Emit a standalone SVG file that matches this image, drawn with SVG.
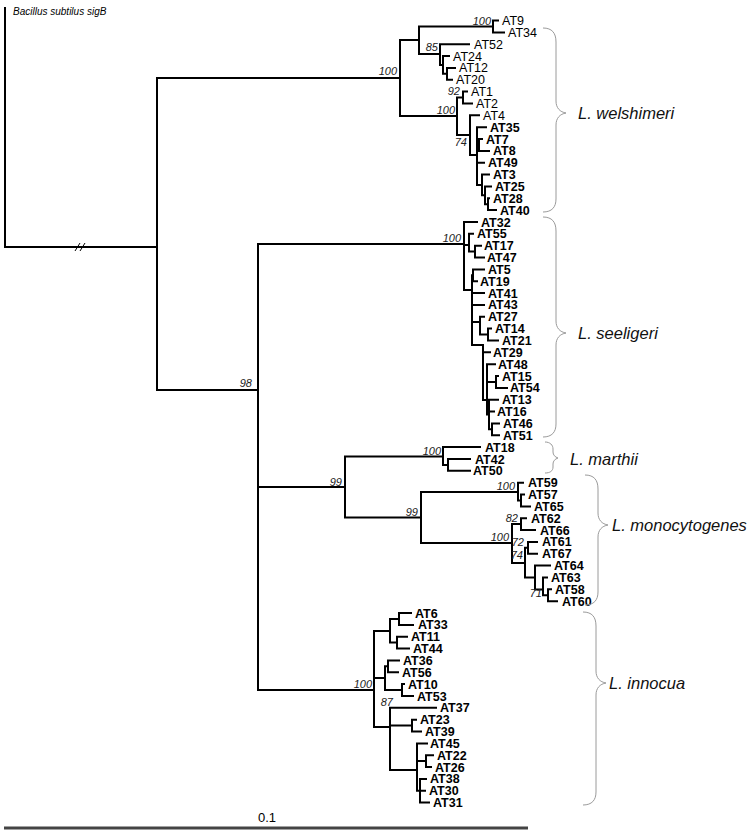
<svg xmlns="http://www.w3.org/2000/svg" width="750" height="834" viewBox="0 0 750 834">
<style>
.br{fill:none;stroke:#000;stroke-width:2;stroke-linecap:square}
.thin{fill:none;stroke:#000;stroke-width:1}
.brace{fill:none;stroke:#9a9a9a;stroke-width:1}
.tip{font-family:"Liberation Sans",Arial,sans-serif;font-size:12.5px;fill:#000}
.tb{font-weight:bold}
.bs{font-family:"Liberation Sans",Arial,sans-serif;font-size:11px;font-style:italic;fill:#222;text-anchor:end}
.sp{font-family:"Liberation Sans",Arial,sans-serif;font-size:16.5px;font-style:italic;fill:#111}
</style>
<rect width="750" height="834" fill="#fff"/>
<g id="connectors">
<path class="br" d="M5 8V247M5 247H157M157 78V390M157 78H400M157 390H258"/>
<path class="thin" d="M75 251L80 243M80 251L85 243"/>
<!-- welshimeri -->
<path class="br" d="M400 40V116M400 40H419M419 26.4V54M419 26.4H493M493 20.5V32.4M493 20.5H498M493 32.4H504
M419 54H440M440 44.2V65M440 44.2H469M440 65H443M443 56V73.8M443 56H449M443 73.8H447M447 67.9V79.8M447 67.9H455M447 79.8H452
M400 116H457M457 97.5V135M457 97.5H463M463 91.6V103.5M463 91.6H467M463 103.5H472
M457 135H470M470 115.3V155M470 115.3H479M470 155H477
M477 127.2V185M477 127.2H486M477 145H479M479 139V150.9M479 139H482M479 150.9H489M477 162.7H484
M477 185H482M482 174.6V195.3M482 174.6H489M482 195.3H485M485 186.4V204.2M485 186.4H491M485 204.2H488M488 198.3V210.1M488 198.3H489M488 210.1H496"/>
<!-- seeligeri -->
<path class="br" d="M258 244V690M258 244H464M464 222V290M464 222H477
M464 245H469M469 233.8V251.6M469 233.8H473M469 251.6H475M475 245.7V257.5M475 245.7H481M475 257.5H484
M464 290H472M472 275.3V345M472 275.3H473M473 269.4V281.2M473 269.4H484M473 281.2H477M472 293.1H484M472 304.9H484
M472 322H480M480 316.8V334.5M480 316.8H484M480 334.5H488M488 328.6V340.5M488 328.6H491M488 340.5H498
M472 345H483M483 345V400M483 352.3H490M483 400H487M487 364.2V414.6M487 364.2H495M487 382H496M496 376V387.9M496 376H498M496 387.9H507
M487 414.6H489M489 399.7V429.3M489 399.7H498M489 411.6H494M489 429.3H492M492 423.4V435.3M492 423.4H499M492 435.3H499"/>
<!-- marthii + monocytogenes -->
<path class="br" d="M258 487H345M345 456.5V517.5M345 456.5H443M443 447.1V464.9M443 447.1H480M443 464.9H448M448 459V470.8M448 459H470M448 470.8H470
M345 517.5H421M421 492V543M421 492H518M518 482.7V500.4M518 482.7H523M518 500.4H521M521 494.5V506.4M521 494.5H524M521 506.4H530
M421 543H512M512 524V563M512 524H521M521 518.2V530.1M521 518.2H526M521 530.1H535
M512 563H525M525 547.8V577.5M525 547.8H528M528 541.9V553.8M528 541.9H537M528 553.8H537
M525 577.5H535M535 565.6V589.4M535 565.6H550M535 589.4H543M543 577.5V595.2M543 577.5H547M543 595.2H548M548 589.3V601.2M548 589.3H551M548 601.2H557"/>
<!-- innocua -->
<path class="br" d="M258 690H374M374 631V727
M374 631H390M390 619V642.6M390 619H399M399 613V624.9M399 613H411M399 624.9H413M390 642.6H397M397 636.7V648.6M397 636.7H407M397 648.6H409
M374 678H385M385 666.3V690M385 666.3H388M388 660.4V672.3M388 660.4H399M388 672.3H398M385 690H402M402 684.1V696M402 684.1H404M402 696H413
M374 727H390M390 707.8V770M390 707.8H436M390 725.6H412M412 719.7V731.5M412 719.7H416M412 731.5H421
M390 770H417M417 743.4V790.8M417 743.4H427M417 761.1H426M426 755.2V767.1M426 755.2H433M426 767.1H431M417 790.8H420M420 778.9V802.6M420 778.9H426M420 790.8H425M420 802.6H429"/>
</g>
<g id="bootstrap">
<text class="bs" x="397" y="75">100</text>
<text class="bs" x="491" y="25">100</text>
<text class="bs" x="438" y="51">85</text>
<text class="bs" x="460" y="95">92</text>
<text class="bs" x="455" y="114">100</text>
<text class="bs" x="467" y="146">74</text>
<text class="bs" x="461" y="242">100</text>
<text class="bs" x="252" y="387">98</text>
<text class="bs" x="441" y="455">100</text>
<text class="bs" x="342" y="486">99</text>
<text class="bs" x="515" y="490">100</text>
<text class="bs" x="418" y="516">99</text>
<text class="bs" x="518" y="522">82</text>
<text class="bs" x="509" y="541">100</text>
<text class="bs" x="524" y="546">72</text>
<text class="bs" x="523" y="559">74</text>
<text class="bs" x="542" y="597">71</text>
<text class="bs" x="372" y="688">100</text>
<text class="bs" x="393" y="706">87</text>
</g>
<g id="outgroup"><text x="13" y="15" style="font-family:'Liberation Sans',Arial,sans-serif;font-size:10px;font-style:italic">Bacillus subtilus sigB</text></g>
<g id="tips-welshimeri">
<g id="AT9"><text class="tip" x="502" y="25">AT9</text></g>
<g id="AT34"><text class="tip" x="508" y="36.9">AT34</text></g>
<g id="AT52"><text class="tip" x="474" y="48.7">AT52</text></g>
<g id="AT24"><text class="tip" x="453" y="60.5">AT24</text></g>
<g id="AT12"><text class="tip" x="459" y="72.4">AT12</text></g>
<g id="AT20"><text class="tip" x="456" y="84.3">AT20</text></g>
<g id="AT1"><text class="tip" x="471" y="96.1">AT1</text></g>
<g id="AT2"><text class="tip" x="476" y="108">AT2</text></g>
<g id="AT4"><text class="tip" x="483" y="119.8">AT4</text></g>
<g id="AT35"><text class="tip tb" x="490" y="131.7">AT35</text></g>
<g id="AT7"><text class="tip tb" x="486" y="143.5">AT7</text></g>
<g id="AT8"><text class="tip tb" x="493" y="155.4">AT8</text></g>
<g id="AT49"><text class="tip tb" x="488" y="167.2">AT49</text></g>
<g id="AT3"><text class="tip tb" x="493" y="179.1">AT3</text></g>
<g id="AT25"><text class="tip tb" x="495" y="190.9">AT25</text></g>
<g id="AT28"><text class="tip tb" x="493" y="202.8">AT28</text></g>
<g id="AT40"><text class="tip tb" x="500" y="214.6">AT40</text></g>
</g>
<g id="tips-seeligeri">
<g id="AT32"><text class="tip tb" x="481" y="226.5">AT32</text></g>
<g id="AT55"><text class="tip tb" x="477" y="238.3">AT55</text></g>
<g id="AT17"><text class="tip tb" x="484" y="250.2">AT17</text></g>
<g id="AT47"><text class="tip tb" x="487" y="262">AT47</text></g>
<g id="AT5"><text class="tip tb" x="488" y="273.9">AT5</text></g>
<g id="AT19"><text class="tip tb" x="480" y="285.7">AT19</text></g>
<g id="AT41"><text class="tip tb" x="488" y="297.6">AT41</text></g>
<g id="AT43"><text class="tip tb" x="488" y="309.4">AT43</text></g>
<g id="AT27"><text class="tip tb" x="488" y="321.3">AT27</text></g>
<g id="AT14"><text class="tip tb" x="495" y="333.1">AT14</text></g>
<g id="AT21"><text class="tip tb" x="502" y="345">AT21</text></g>
<g id="AT29"><text class="tip tb" x="493" y="356.8">AT29</text></g>
<g id="AT48"><text class="tip tb" x="498" y="368.7">AT48</text></g>
<g id="AT15"><text class="tip tb" x="502" y="380.5">AT15</text></g>
<g id="AT54"><text class="tip tb" x="510" y="392.4">AT54</text></g>
<g id="AT13"><text class="tip tb" x="502" y="404.2">AT13</text></g>
<g id="AT16"><text class="tip tb" x="497" y="416.1">AT16</text></g>
<g id="AT46"><text class="tip tb" x="503" y="427.9">AT46</text></g>
<g id="AT51"><text class="tip tb" x="503" y="439.8">AT51</text></g>
</g>
<g id="tips-marthii">
<g id="AT18"><text class="tip tb" x="485" y="451.6">AT18</text></g>
<g id="AT42"><text class="tip tb" x="475" y="463.5">AT42</text></g>
<g id="AT50"><text class="tip tb" x="473" y="475.3">AT50</text></g>
</g>
<g id="tips-monocytogenes">
<g id="AT59"><text class="tip tb" x="528" y="487.2">AT59</text></g>
<g id="AT57"><text class="tip tb" x="528" y="499">AT57</text></g>
<g id="AT65"><text class="tip tb" x="534" y="510.9">AT65</text></g>
<g id="AT62"><text class="tip tb" x="531" y="522.7">AT62</text></g>
<g id="AT66"><text class="tip tb" x="540" y="534.6">AT66</text></g>
<g id="AT61"><text class="tip tb" x="542" y="546.4">AT61</text></g>
<g id="AT67"><text class="tip tb" x="542" y="558.3">AT67</text></g>
<g id="AT64"><text class="tip tb" x="554" y="570.1">AT64</text></g>
<g id="AT63"><text class="tip tb" x="551" y="582">AT63</text></g>
<g id="AT58"><text class="tip tb" x="555" y="593.8">AT58</text></g>
<g id="AT60"><text class="tip tb" x="562" y="605.7">AT60</text></g>
</g>
<g id="tips-innocua">
<g id="AT6"><text class="tip tb" x="415" y="617.5">AT6</text></g>
<g id="AT33"><text class="tip tb" x="418" y="629.4">AT33</text></g>
<g id="AT11"><text class="tip tb" x="411" y="641.2">AT11</text></g>
<g id="AT44"><text class="tip tb" x="413" y="653.1">AT44</text></g>
<g id="AT36"><text class="tip tb" x="403" y="664.9">AT36</text></g>
<g id="AT56"><text class="tip tb" x="402" y="676.8">AT56</text></g>
<g id="AT10"><text class="tip tb" x="408" y="688.6">AT10</text></g>
<g id="AT53"><text class="tip tb" x="417" y="700.5">AT53</text></g>
<g id="AT37"><text class="tip tb" x="440" y="712.3">AT37</text></g>
<g id="AT23"><text class="tip tb" x="420" y="724.2">AT23</text></g>
<g id="AT39"><text class="tip tb" x="425" y="736">AT39</text></g>
<g id="AT45"><text class="tip tb" x="430" y="747.9">AT45</text></g>
<g id="AT22"><text class="tip tb" x="437" y="759.7">AT22</text></g>
<g id="AT26"><text class="tip tb" x="435" y="771.6">AT26</text></g>
<g id="AT38"><text class="tip tb" x="430" y="783.4">AT38</text></g>
<g id="AT30"><text class="tip tb" x="429" y="795.3">AT30</text></g>
<g id="AT31"><text class="tip tb" x="433" y="807.1">AT31</text></g>
</g>
<g id="clades">
<path class="brace" d="M543 28C552 28 556 33 556 42V101C556 108 560 112 566 113C560 114 556 118 556 125V199C556 207 552 212 543 212"/>
<text class="sp" x="578" y="119">L. welshimeri</text>
<path class="brace" d="M543 217C552 217 556 222 556 231V321C556 328 560 332 566 333C560 334 556 338 556 345V424C556 432 552 437 543 437"/>
<text class="sp" x="578" y="339">L. seeligeri</text>
<path class="brace" d="M545 442C550 442 553 445 553 449V452C553 455 555 457 558 458C555 459 553 461 553 464V467C553 471 550 473 545 473"/>
<text class="sp" x="570" y="465">L. marthii</text>
<path class="brace" d="M585 475C594 475 598 480 598 489V513C598 520 602 524 608 525C602 526 598 530 598 537V592C598 600 594 605 585 605"/>
<text class="sp" x="612" y="531">L. monocytogenes</text>
<path class="brace" d="M583 612C592 612 596 617 596 626V671C596 678 600 682 606 683C600 684 596 688 596 695V792C596 800 592 805 583 805"/>
<text class="sp" x="609" y="689">L. innocua</text>
</g>
<g id="scale">
<line x1="4" y1="828" x2="528" y2="828" stroke="#444" stroke-width="3"/>
<text x="258" y="822" style="font-family:'Liberation Sans',Arial,sans-serif;font-size:13px">0.1</text>
</g>
</svg>
